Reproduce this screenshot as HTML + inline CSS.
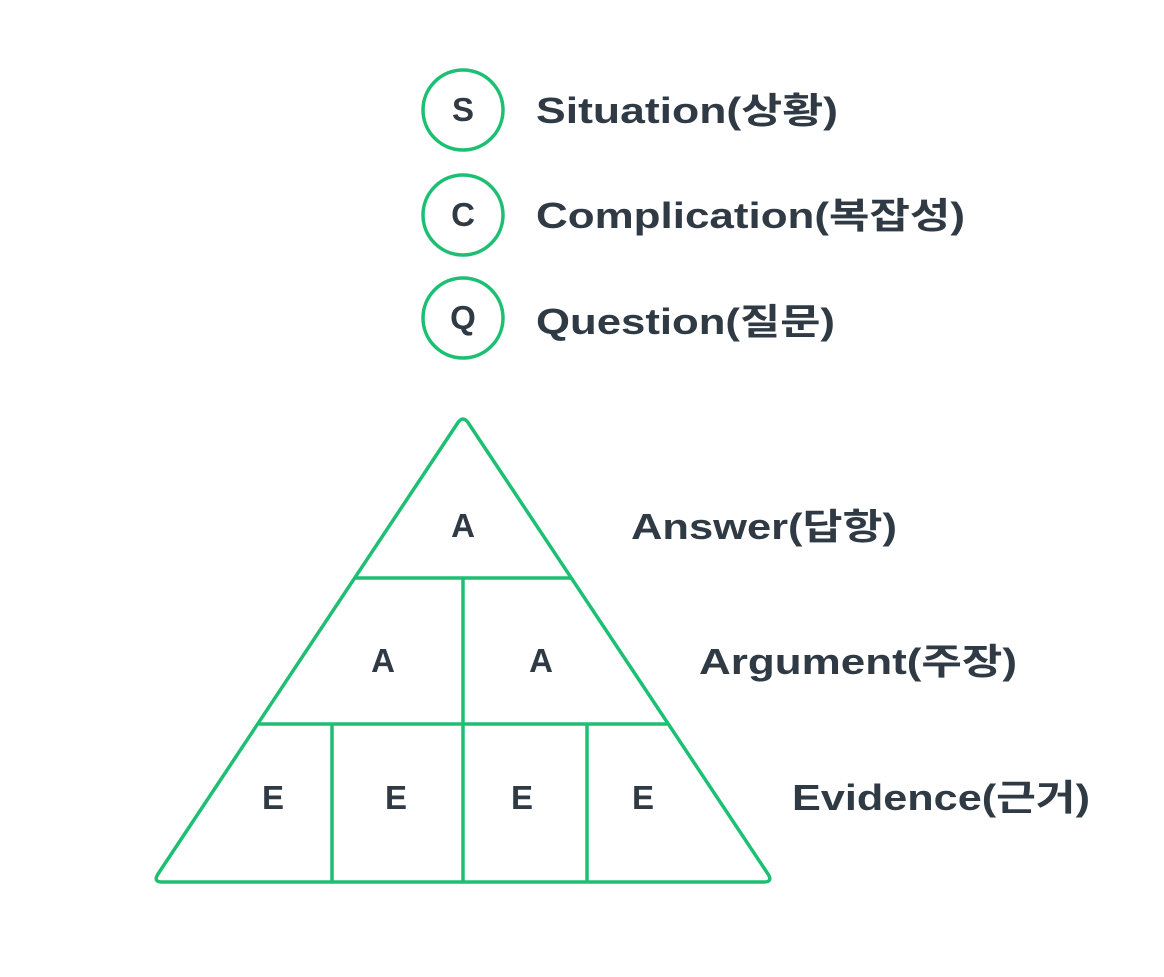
<!DOCTYPE html>
<html><head><meta charset="utf-8"><style>
html,body{margin:0;padding:0;background:#fff;}
svg{display:block;}
text{font-family:"Liberation Sans","Noto Sans CJK KR",sans-serif;fill:#2f3a44;font-weight:bold;}
</style></head><body>
<svg width="1164" height="977" viewBox="0 0 1164 977">
<g fill="none" stroke="#1dbf73" stroke-width="3.5" stroke-linejoin="round">
<circle cx="463" cy="110" r="40"/>
<circle cx="463" cy="215" r="40"/>
<circle cx="463" cy="318" r="40"/>
<path d="M457 424 Q463 414 469 424 L768 874 Q773 882 764 882 L162 882 Q153 882 158 874 Z"/>
<line x1="355" y1="578" x2="572" y2="578"/>
<line x1="259" y1="724" x2="668" y2="724"/>
<line x1="463" y1="578" x2="463" y2="882"/>
<line x1="332" y1="724" x2="332" y2="882"/>
<line x1="587" y1="724" x2="587" y2="882"/>
</g>
<g font-size="33" text-anchor="middle">
<text x="463" y="121">S</text>
<text x="463" y="226">C</text>
<text x="463" y="329">Q</text>
<text x="463" y="537">A</text>
<text x="383" y="672">A</text>
<text x="541" y="672">A</text>
<text x="273" y="809">E</text>
<text x="396" y="809">E</text>
<text x="522" y="809">E</text>
<text x="643" y="809">E</text>
</g>
<g font-size="36" lengthAdjust="spacingAndGlyphs">
<text x="536" y="123" textLength="302" lengthAdjust="spacingAndGlyphs">Situation(상황)</text>
<text x="536" y="228" textLength="429" lengthAdjust="spacingAndGlyphs">Complication(복잡성)</text>
<text x="536" y="334" textLength="299" lengthAdjust="spacingAndGlyphs">Question(질문)</text>
<text x="631" y="539" textLength="266" lengthAdjust="spacingAndGlyphs">Answer(답항)</text>
<text x="699" y="674" textLength="318" lengthAdjust="spacingAndGlyphs">Argument(주장)</text>
<text x="792" y="810" textLength="298" lengthAdjust="spacingAndGlyphs">Evidence(근거)</text>
</g>
</svg>
</body></html>
